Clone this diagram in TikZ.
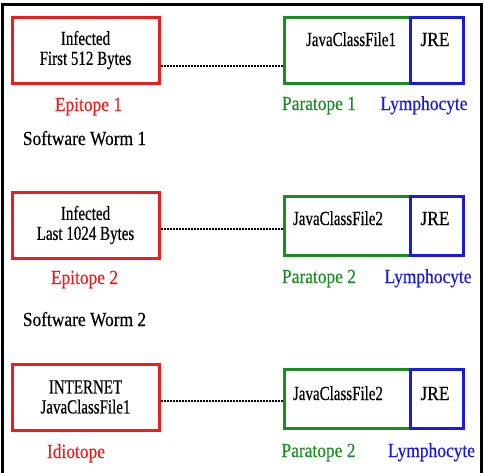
\documentclass[tikz,border=0pt]{standalone}
\usepackage{fontspec}
\usepackage{tikz}
\usetikzlibrary{positioning,calc}
\newfontfamily\boxserif[FakeStretch=0.75,FakeBold=0.4]{Liberation Serif}
\newfontfamily\labserif[FakeStretch=0.87,FakeBold=0.4]{Liberation Serif}
\definecolor{wred}{HTML}{F01C1C}
\definecolor{wgrn}{HTML}{1A8C22}
\definecolor{wblu}{HTML}{1A1AE6}
\tikzset{
  frame/.style={line width=3pt, black},
  epi/.style={draw=wred, line width=3pt, minimum width=147pt, minimum height=66pt, inner sep=0pt, align=center,
    font=\boxserif\fontsize{20pt}{20pt}\selectfont},
  par/.style={draw=wgrn, line width=3pt, minimum width=126pt, inner sep=0pt},
  lym/.style={draw=wblu, line width=3pt, minimum width=53pt, inner sep=0pt},
  boxtxt/.style={anchor=base, inner sep=0pt, font=\boxserif\fontsize{20pt}{20pt}\selectfont},
  jretxt/.style={anchor=base, inner sep=0pt, font=\labserif\fontsize{20pt}{20pt}\selectfont},
  lab/.style={anchor=base, inner sep=0pt, font=\labserif\fontsize{20pt}{20pt}\selectfont},
  link/.style={densely dotted, line width=2pt, black},
}
\begin{document}
\begin{tikzpicture}[x=1pt,y=-1pt]
 \useasboundingbox (0,0) rectangle (486,472);
 \draw[frame] (2.3,476) -- (2.3,4.5) -- (481.2,4.5) -- (481.2,476);
 \node[epi] (e1) at (85.5,50) {Infected\\First 512 Bytes};
 \node[par, minimum height=66pt] (p1) at (347,50) {};
 \node[lym, minimum height=66pt] (l1) at (436.5,50) {};
 \node[boxtxt] (j1) at (351,46) {JavaClassFile1};
 \node[jretxt] (r1) at (435,46) {JRE};
 \coordinate (d1) at (0,66);
 \draw[link] (e1.east |- d1) -- (p1.west |- d1);
 \node[lab, wred] (ep1) at (88.5,111) {Epitope 1};
 \node[lab, wgrn] (pt1) at (319,110) {Paratope 1};
 \node[lab, wblu] (ly1) at (424,110) {Lymphocyte};
 \node[lab] (sw1) at (84.5,145) {Software Worm 1};
 \node[epi] (e2) at (85.5,225) {Infected\\Last 1024 Bytes};
 \node[par, minimum height=59pt] (p2) at (347,225.5) {};
 \node[lym, minimum height=59pt] (l2) at (436.5,225.5) {};
 \node[boxtxt] (j2) at (338,225) {JavaClassFile2};
 \node[jretxt] (r2) at (435,225) {JRE};
 \coordinate (d2) at (0,229);
 \draw[link] (e2.east |- d2) -- (p2.west |- d2);
 \node[lab, wred] (ep2) at (84.5,284) {Epitope 2};
 \node[lab, wgrn] (pt2) at (319,283) {Paratope 2};
 \node[lab, wblu] (ly2) at (428,283) {Lymphocyte};
 \node[lab] (sw2) at (84.5,326) {Software Worm 2};
 \node[epi] (e3) at (85.5,397) {INTERNET\\JavaClassFile1};
 \node[par, minimum height=59pt] (p3) at (347,398.5) {};
 \node[lym, minimum height=59pt] (l3) at (436.5,398.5) {};
 \node[boxtxt] (j3) at (338,400) {JavaClassFile2};
 \node[jretxt] (r3) at (435,400) {JRE};
 \coordinate (d3) at (0,401);
 \draw[link] (e3.east |- d3) -- (p3.west |- d3);
 \node[lab, wred] (id3) at (76,458) {Idiotope};
 \node[lab, wgrn] (pt3) at (318.5,457) {Paratope 2};
 \node[lab, wblu] (ly3) at (431.5,457) {Lymphocyte};
\end{tikzpicture}
\end{document}
